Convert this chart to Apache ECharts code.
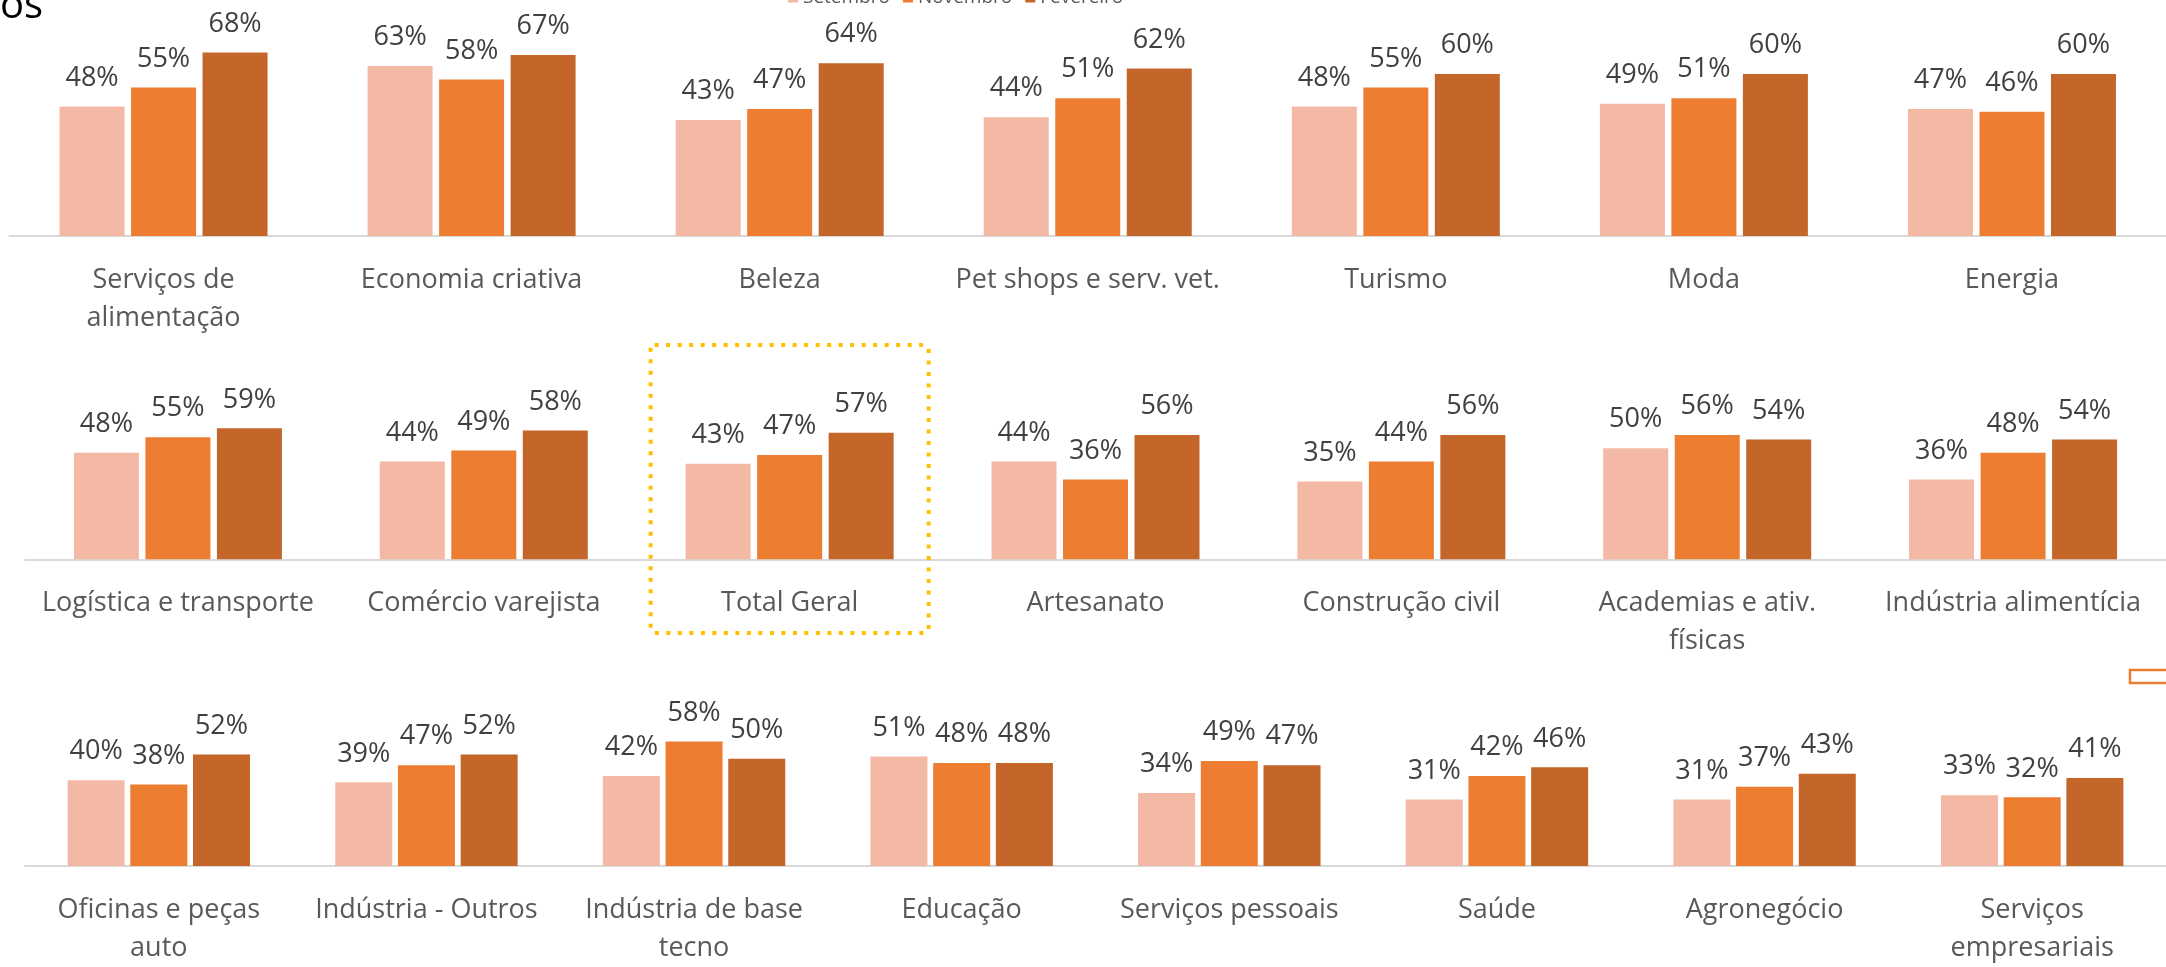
<!DOCTYPE html>
<html>
<head>
<meta charset="utf-8">
<script src="https://cdn.jsdelivr.net/npm/echarts@6/dist/echarts.min.js"></script>
<style>
html, body { margin: 0; padding: 0; background: #fff; }
#chart { width: 2166px; height: 967px; }
</style>
</head>
<body>
<div id="chart"></div>
<script>
var seriesNames = ['Setembro', 'Novembro', 'Fevereiro'];
var colors = ['#F4B9A5', '#ED7D31', '#C46529'];

// linha 1
var row1Categories = ['Serviços de\nalimentação', 'Economia criativa', 'Beleza', 'Pet shops e serv. vet.', 'Turismo', 'Moda', 'Energia'];
var row1Setembro  = [48, 63, 43, 44, 48, 49, 47];
var row1Novembro  = [55, 58, 47, 51, 55, 51, 46];
var row1Fevereiro = [68, 67, 64, 62, 60, 60, 60];

// linha 2
var row2Categories = ['Logística e transporte', 'Comércio varejista', 'Total Geral', 'Artesanato', 'Construção civil', 'Academias e ativ.\nfísicas', 'Indústria alimentícia'];
var row2Setembro  = [48, 44, 43, 44, 35, 50, 36];
var row2Novembro  = [55, 49, 47, 36, 44, 56, 48];
var row2Fevereiro = [59, 58, 57, 56, 56, 54, 54];

// linha 3
var row3Categories = ['Oficinas e peças\nauto', 'Indústria - Outros', 'Indústria de base\ntecno', 'Educação', 'Serviços pessoais', 'Saúde', 'Agronegócio', 'Serviços\nempresariais'];
var row3Setembro  = [40, 39, 42, 51, 34, 31, 31, 33];
var row3Novembro  = [38, 47, 58, 48, 49, 42, 37, 32];
var row3Fevereiro = [52, 52, 50, 48, 47, 46, 43, 41];

var fontFamily = '"Open Sans", "Noto Sans", sans-serif';

var rows = [
    { cats: row1Categories, data: [row1Setembro, row1Novembro, row1Fevereiro], grid: { left: 9.5, width: 2163, top: 20, height: 216 }, barWidth: 65 },
    { cats: row2Categories, data: [row2Setembro, row2Novembro, row2Fevereiro], grid: { left: 25, width: 2163, top: 381.7, height: 177.6 }, barWidth: 65 },
    { cats: row3Categories, data: [row3Setembro, row3Novembro, row3Fevereiro], grid: { left: 25, width: 2164, top: 694.4, height: 177.6 }, barWidth: 57 }
];

var grids = [], xAxes = [], yAxes = [], series = [];
rows.forEach(function (row, i) {
    grids.push(row.grid);
    xAxes.push({
        type: 'category',
        gridIndex: i,
        data: row.cats,
        axisTick: { show: false },
        axisLine: { lineStyle: { color: '#D9D9D9', width: 2 } },
        axisLabel: {
            interval: 0,
            fontSize: 27,
            lineHeight: 38,
            margin: 25,
            color: '#595959',
            fontFamily: fontFamily
        }
    });
    yAxes.push({ type: 'value', gridIndex: i, min: 0, max: 80, show: false });
    row.data.forEach(function (vals, k) {
        series.push({
            name: seriesNames[k],
            type: 'bar',
            xAxisIndex: i,
            yAxisIndex: i,
            data: vals,
            barWidth: row.barWidth,
            barGap: '10%',
            itemStyle: { color: colors[k] },
            label: {
                show: true,
                position: 'top',
                distance: 15,
                formatter: '{c}%',
                fontSize: 27,
                color: '#404040',
                fontFamily: fontFamily
            }
        });
    });
});

var myChart = echarts.init(document.getElementById('chart'));
option = {
    backgroundColor: '#fff',
    animation: false,
    color: colors,
    legend: {
        data: seriesNames,
        left: 788,
        top: -12,
        padding: 0,
        icon: 'rect',
        itemWidth: 10,
        itemHeight: 10,
        itemGap: 13,
        textStyle: { fontSize: 19, color: '#595959', fontFamily: fontFamily }
    },
    grid: grids,
    xAxis: xAxes,
    yAxis: yAxes,
    series: series
};
myChart.setOption(option);

// moldura pontilhada em volta do Total Geral
var cx = myChart.convertToPixel({ xAxisIndex: 1 }, 'Total Geral');
myChart.setOption({
    graphic: [
        {
            type: 'rect',
            shape: { x: cx - 139, y: 345, width: 278, height: 288, r: 4 },
            style: { fill: 'none', stroke: '#FFC000', lineWidth: 4, lineDash: [4, 7.5] },
            z: 10
        },
        {
            type: 'text',
            x: 0,
            y: 7,
            style: { text: 'os', fontSize: 40, fill: '#000', fontFamily: fontFamily, verticalAlign: 'middle' }
        },
        {
            type: 'rect',
            shape: { x: 2130, y: 670, width: 60, height: 13 },
            style: { fill: '#fff', stroke: '#ED7D31', lineWidth: 2.5 }
        }
    ]
});
</script>
</body>
</html>
